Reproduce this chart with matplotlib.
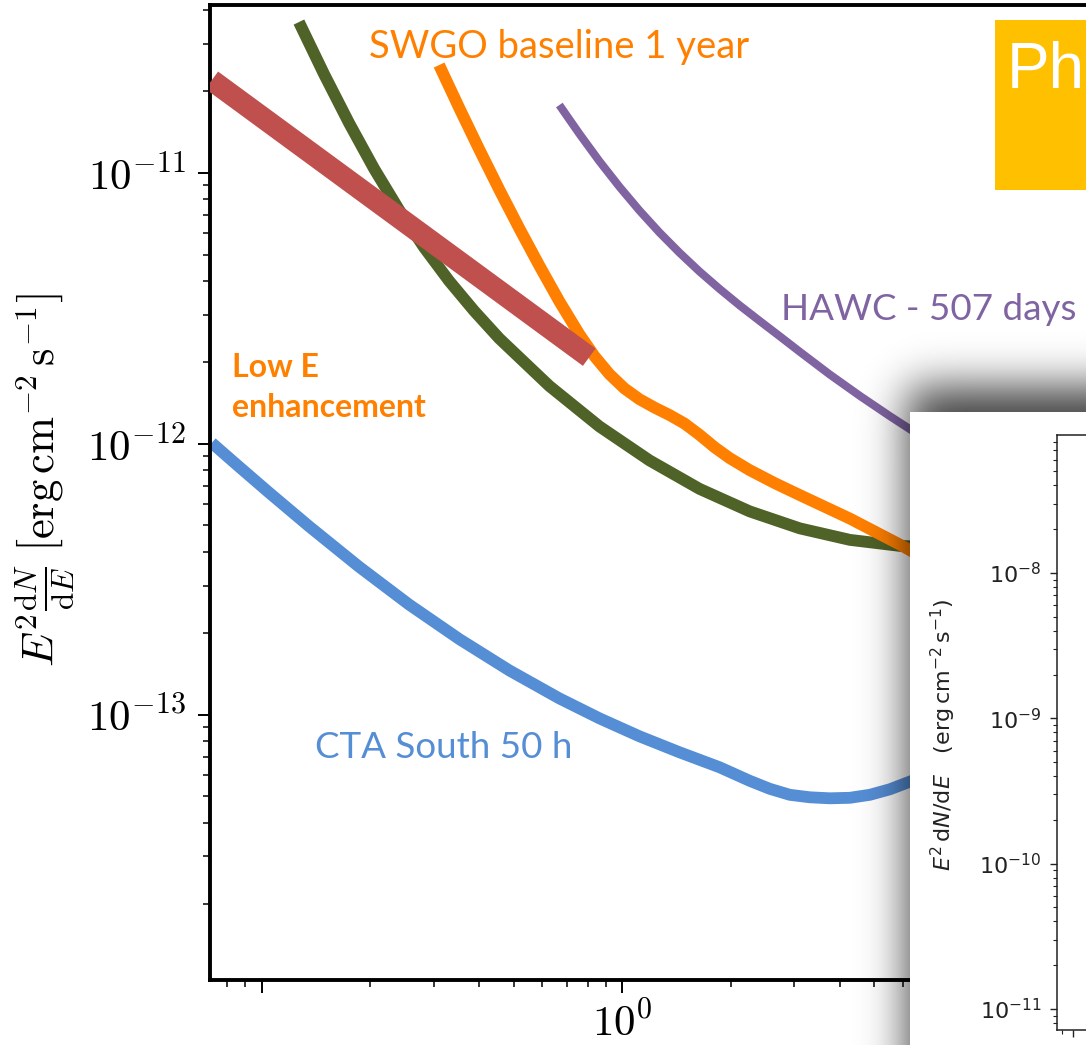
import math
import numpy as np
import matplotlib
matplotlib.use("Agg")
import matplotlib.pyplot as plt
from matplotlib.patches import Rectangle
from matplotlib.ticker import FixedLocator, NullFormatter, LogLocator

# ---------------- data (energy in TeV, sensitivity in erg cm^-2 s^-1) ----------------
low_e_energy = [0.0726, 0.809]
low_e_flux = [2.20e-11, 2.09e-12]

green_energy = [0.1267, 0.1487, 0.1745, 0.2047, 0.2402, 0.2818, 0.3306, 0.3880,
                0.4553, 0.6267, 0.8632, 1.1885, 1.6364, 2.2535, 3.1024, 4.2726,
                5.882, 6.901]
green_flux = [3.607e-11, 2.319e-11, 1.529e-11, 1.038e-11, 7.304e-12, 5.311e-12,
              3.995e-12, 3.096e-12, 2.451e-12, 1.637e-12, 1.160e-12, 8.693e-13,
              6.823e-13, 5.636e-13, 4.879e-13, 4.424e-13, 4.203e-13, 4.168e-13]

swgo_energy = [0.3101, 0.3525, 0.4007, 0.4553, 0.5175, 0.5880, 0.6683, 0.7596,
               0.8360, 0.9202, 1.0129, 1.1148, 1.2271, 1.3509, 1.4863, 1.6364,
               1.8013, 1.9827, 2.2535, 2.6441, 3.1024, 4.2726, 5.882, 6.901]
swgo_flux = [2.503e-11, 1.740e-11, 1.222e-11, 8.685e-12, 6.246e-12, 4.552e-12,
             3.359e-12, 2.537e-12, 2.109e-12, 1.809e-12, 1.602e-12, 1.462e-12,
             1.362e-12, 1.278e-12, 1.189e-12, 1.080e-12, 9.716e-13, 8.864e-13,
             8.003e-13, 7.167e-13, 6.474e-13, 5.302e-13, 4.250e-13, 3.774e-13]

hawc_energy = [0.6683, 0.7596, 0.8632, 0.9810, 1.1148, 1.2672, 1.4400, 1.6364,
               1.8596, 2.1135, 2.4022, 2.7298, 3.1024, 3.7584, 4.5523, 5.5171,
               6.683]
hawc_flux = [1.782e-11, 1.395e-11, 1.105e-11, 8.894e-12, 7.267e-12, 6.027e-12,
             5.077e-12, 4.327e-12, 3.733e-12, 3.246e-12, 2.844e-12, 2.497e-12,
             2.189e-12, 1.804e-12, 1.505e-12, 1.266e-12, 1.073e-12]

cta_energy = [0.0726, 0.0863, 0.1046, 0.1351, 0.1860, 0.2560, 0.3525, 0.4855,
              0.6683, 0.8632, 1.1148, 1.4400, 1.8596, 2.2535, 2.5610, 2.9105,
              3.3070, 3.7584, 4.2726, 4.8550, 5.5171, 6.683]
cta_flux = [1.009e-12, 8.253e-13, 6.618e-13, 4.966e-13, 3.520e-13, 2.553e-13,
            1.905e-13, 1.459e-13, 1.150e-13, 9.707e-14, 8.331e-14, 7.272e-14,
            6.403e-14, 5.708e-14, 5.333e-14, 5.068e-14, 4.962e-14, 4.919e-14,
            4.940e-14, 5.068e-14, 5.311e-14, 5.855e-14]

main_yticks = [1e-13, 1e-12, 1e-11]
main_yticklabels = [r"$10^{-13}$", r"$10^{-12}$", r"$10^{-11}$"]
main_xticks = [0.1, 1.0, 10.0]
main_xticklabels = ["", r"$10^{0}$", ""]

inset_yticks = [1e-11, 1e-10, 1e-9, 1e-8]
inset_yticklabels = [r"$10^{-11}$", r"$10^{-10}$", r"$10^{-9}$", r"$10^{-8}$"]

# ---------------- colours ----------------
C_RED = "#C0504D"
C_GREEN = "#4F6228"
C_ORANGE = "#FF8000"
C_PURPLE = "#8064A2"
C_BLUE = "#558ED5"
C_YELLOW = "#FFC000"

W, H = 1086, 1045
plt.rcParams["mathtext.fontset"] = "cm"

fig = plt.figure(figsize=(W / 100, H / 100), dpi=100)
fig.patch.set_facecolor("white")


def fx(px):
    return px / W


def fy(py):
    return 1 - py / H


# ---------------- main sensitivity panel ----------------
ax = fig.add_axes([fx(210), fy(980), fx(1086) - fx(210), fy(5) - fy(980)], zorder=1)
ax.set_xscale("log")
ax.set_yscale("log")
ax.set_xlim(0.0718, 19.3)
ax.set_ylim(1.05e-14, 4.17e-11)

line_kw = dict(solid_capstyle="butt", solid_joinstyle="round")
ax.plot(cta_energy, cta_flux, color=C_BLUE, lw=8.5, zorder=2, **line_kw)
ax.plot(hawc_energy, hawc_flux, color=C_PURPLE, lw=5.8, zorder=2, **line_kw)
ax.plot(green_energy, green_flux, color=C_GREEN, lw=8.5, zorder=3, **line_kw)
ax.plot(swgo_energy, swgo_flux, color=C_ORANGE, lw=8.5, zorder=4, **line_kw)
ax.plot(low_e_energy, low_e_flux, color=C_RED, lw=15.5, zorder=5, **line_kw)

for side in ("left", "bottom", "top"):
    ax.spines[side].set_linewidth(2.8)
    ax.spines[side].set_color("black")
ax.spines["right"].set_visible(False)

ax.set_yticks(main_yticks)
ax.set_yticklabels(main_yticklabels)
ax.set_xticks(main_xticks)
ax.set_xticklabels(main_xticklabels)
ax.yaxis.set_minor_locator(LogLocator(base=10, subs=np.arange(2, 10) * 1.0, numticks=20))
ax.xaxis.set_minor_locator(LogLocator(base=10, subs=np.arange(2, 10) * 1.0, numticks=20))
ax.xaxis.set_minor_formatter(NullFormatter())
ax.yaxis.set_minor_formatter(NullFormatter())
ax.tick_params(which="major", length=9, width=1.4, labelsize=31, pad=8)
ax.tick_params(which="minor", length=5, width=1.1)
ax.tick_params(axis="x", which="both", top=False)

fig.text(fx(45), fy(480),
         r"$E^2\frac{\mathrm{d}N}{\mathrm{d}E}\;\left[\mathrm{erg\,cm^{-2}\,s^{-1}}\right]$",
         rotation=90, ha="center", va="center", fontsize=32)

# curve annotations
label_font = ["Lato", "DejaVu Sans"]
fig.text(fx(559), fy(47), "SWGO baseline 1 year", color=C_ORANGE,
         family=label_font, fontsize=27.5, ha="center", va="center")
fig.text(fx(929), fy(310), "HAWC - 507 days", color=C_PURPLE,
         family=label_font, fontsize=26.5, ha="center", va="center")
fig.text(fx(444), fy(747), "CTA South 50 h", color=C_BLUE,
         family=label_font, fontsize=26.5, ha="center", va="center")
fig.text(fx(232), fy(377), "Low E", color=C_ORANGE,
         family=label_font, fontsize=23, fontweight="bold",
         ha="left", va="baseline")
fig.text(fx(232), fy(417), "enhancement", color=C_ORANGE,
         family=label_font, fontsize=23, fontweight="bold",
         ha="left", va="baseline")

# ---------------- heading tab ----------------
fig.add_artist(Rectangle((fx(995), fy(190)), fx(1086) - fx(995), fy(20) - fy(190),
                         transform=fig.transFigure, facecolor=C_YELLOW,
                         edgecolor="none", zorder=2))
fig.text(fx(1007), fy(88), "Ph", color="white", family=["Liberation Sans", "DejaVu Sans"],
         fontsize=46, ha="left", va="baseline", zorder=3)

# ---------------- drop shadow behind the inset ----------------
shade_ax = fig.add_axes([0, 0, 1, 1], zorder=3)
shade_ax.set_axis_off()
shade_ax.set_xlim(0, W)
shade_ax.set_ylim(H, 0)
erf = np.vectorize(math.erf)
gx = 0.5 * (1 + erf((np.arange(W) + 0.5 - (910 - 2)) / (22 * math.sqrt(2))))
gy = 0.5 * (1 + erf((np.arange(H) + 0.5 - (412 - 25)) / (22 * math.sqrt(2))))
shadow = np.zeros((H, W, 4))
shadow[..., 3] = 0.75 * np.outer(gy, gx)
shade_ax.imshow(shadow, extent=(0, W, H, 0), aspect="auto", interpolation="bilinear")

# ---------------- inset panel ----------------
panel = fig.add_axes([fx(910), 0, fx(1086) - fx(910), fy(412)], zorder=4)
panel.set_facecolor("white")
panel.set_xticks([])
panel.set_yticks([])
for s in panel.spines.values():
    s.set_visible(False)

ax_in = fig.add_axes([fx(1057), fy(1030), fx(1300) - fx(1057), fy(435) - fy(1030)], zorder=5)
ax_in.set_facecolor("white")
ax_in.set_xscale("log")
ax_in.set_yscale("log")
ax_in.set_xlim(0.858, 8.8)
ax_in.set_ylim(7.16e-12, 8.9e-8)
ax_in.set_yticks(inset_yticks)
ax_in.set_yticklabels(inset_yticklabels)
ax_in.yaxis.set_minor_locator(LogLocator(base=10, subs=np.arange(2, 10) * 1.0, numticks=20))
ax_in.yaxis.set_minor_formatter(NullFormatter())
ax_in.set_xticks([1.0])
ax_in.set_xticklabels([""])
ax_in.xaxis.set_minor_locator(FixedLocator([0.9]))
ax_in.xaxis.set_minor_formatter(NullFormatter())
for s in ax_in.spines.values():
    s.set_linewidth(1.1)
    s.set_color("#222222")
ax_in.tick_params(which="major", length=5, width=1.0, labelsize=16, pad=6,
                  colors="#222222")
ax_in.tick_params(which="minor", length=3, width=0.8, colors="#222222")
for lbl in ax_in.get_yticklabels():
    lbl.set_math_fontfamily("dejavusans")
fig.text(fx(943), fy(735),
         r"$E^2\,\mathrm{d}N/\mathrm{d}E\quad(\mathrm{erg\,cm^{-2}\,s^{-1}})$",
         rotation=90, ha="center", va="center", fontsize=16, color="#222222",
         zorder=6, math_fontfamily="dejavusans")

fig.savefig("out.png", dpi=100)
